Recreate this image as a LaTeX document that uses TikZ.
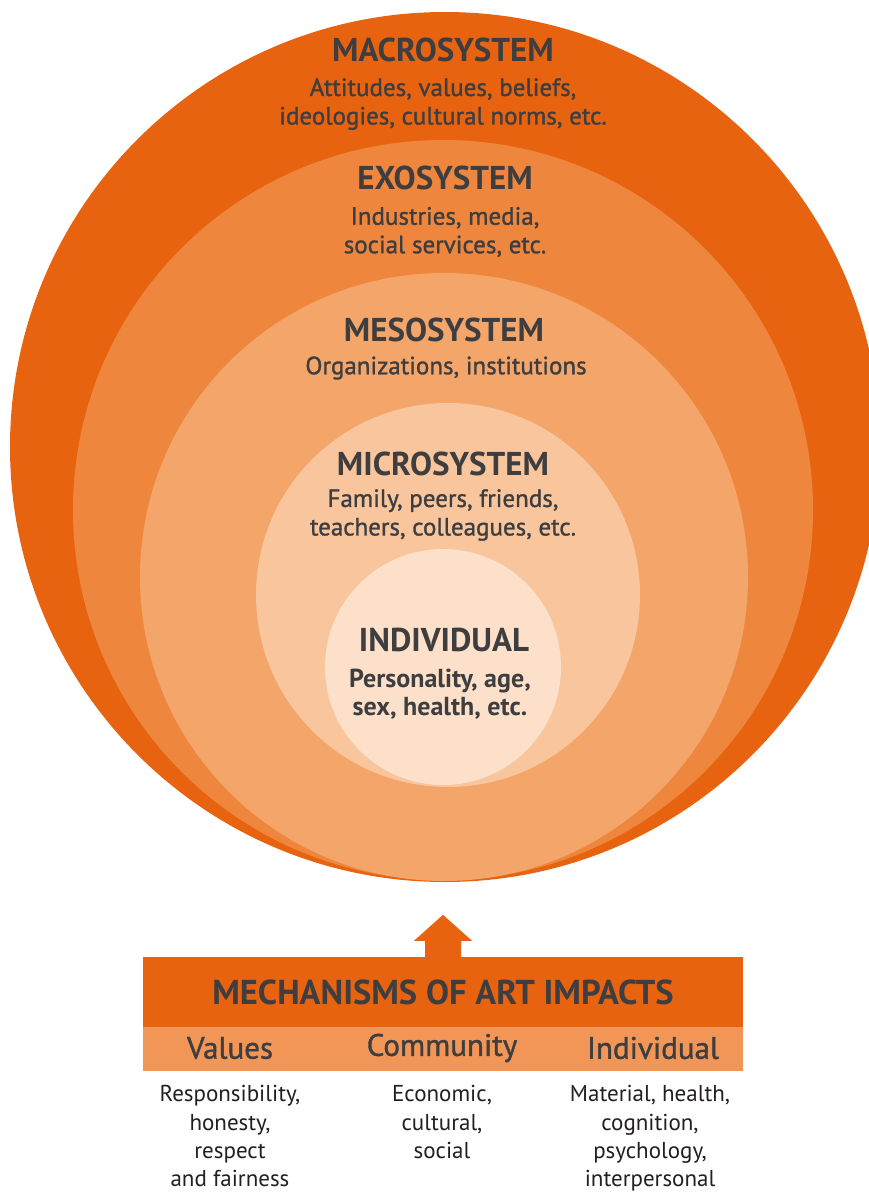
\documentclass[tikz,border=0pt]{standalone}
\usepackage{fontspec}
\setmainfont{PT Sans}
\newfontfamily\medfont[FakeBold=1.2]{PT Sans}
\usetikzlibrary{positioning}

\definecolor{macro}{HTML}{E8630F}
\definecolor{exo}{HTML}{EE873D}
\definecolor{meso}{HTML}{F4A66A}
\definecolor{micro}{HTML}{F8C59C}
\definecolor{indiv}{HTML}{FDE0C9}
\definecolor{band}{HTML}{F19656}
\definecolor{ink}{HTML}{3E3E40}
\definecolor{body}{HTML}{231F20}

\begin{document}
\begin{tikzpicture}[x=1pt, y=-1pt,
    ring/.style={circle, inner sep=0pt, outer sep=0pt},
    head/.style={text=ink, font=\bfseries\fontsize{33}{35}\selectfont},
    sub/.style={text=ink, align=center, font=\medfont\fontsize{25}{28.5}\selectfont},
    colhead/.style={text=ink, font=\medfont\fontsize{31}{32}\selectfont},
    coltext/.style={text=body, align=center, font=\fontsize{23}{28.3}\selectfont}]
    \clip (0,0) rectangle (869,1193);

    % We start by placing the nested systems
    \node[ring, fill=macro, minimum size=870] (macro) at (445,447) {};
    \node[ring, fill=exo,   minimum size=740] (exo)   at (443,510) {};
    \node[ring, fill=meso,  minimum size=608] (meso)  at (444,577) {};
    \node[ring, fill=micro, minimum size=384] (micro) at (448,595) {};
    \node[ring, fill=indiv, minimum size=236] (indiv) at (443,667) {};

    % labels of the systems
    \node[head] (macrohead) at (443,50) {MACROSYSTEM};
    \node[sub] (macrosub) at (443,104) {Attitudes, values, beliefs,\\ideologies, cultural norms, etc.};
    \node[head] (exohead) at (445,178) {EXOSYSTEM};
    \node[sub] (exosub) at (445,232) {Industries, media,\\social services, etc.};
    \node[head] (mesohead) at (444,330) {MESOSYSTEM};
    \node[sub] (mesosub) at (446,368) {Organizations, institutions};
    \node[head] (microhead) at (443,464) {MICROSYSTEM};
    \node[sub] (microsub) at (443,515) {Family, peers, friends,\\teachers, colleagues, etc.};
    \node[head] (indivhead) at (444,640) {INDIVIDUAL};
    \node[sub, font=\bfseries\fontsize{26}{27.5}\selectfont] (indivsub) at (440,694) {Personality, age,\\sex, health, etc.};

    % the mechanisms box
    \node[fill=macro, inner sep=0pt, minimum width=600, minimum height=70, head,
        font=\bfseries\fontsize{34.5}{36}\selectfont] (mech) at (443,992) {MECHANISMS OF ART IMPACTS};
    \node[fill=band, inner sep=0pt, minimum width=600, minimum height=44, below=0pt of mech] (band) {};
    \fill[macro] (mech.north) ++(-18,0) -- ++(0,-16) -- ++(-11,0) -- ++(29,-26)
        -- ++(29,26) -- ++(-11,0) -- ++(0,16) -- cycle;

    \node[colhead] (values) at (230,1048) {Values};
    \node[colhead] (community) at (442,1048) {Community};
    \node[colhead] (individual) at (653,1048) {Individual};

    \node[coltext, anchor=north] (valuestext) at (230,1082) {Responsibility,\\honesty,\\respect\\and fairness};
    \node[coltext, anchor=north] (communitytext) at (442,1082) {Economic,\\cultural,\\social};
    \node[coltext, anchor=north] (individualtext) at (650,1082) {Material, health,\\cognition,\\psychology,\\interpersonal};
\end{tikzpicture}
\end{document}
